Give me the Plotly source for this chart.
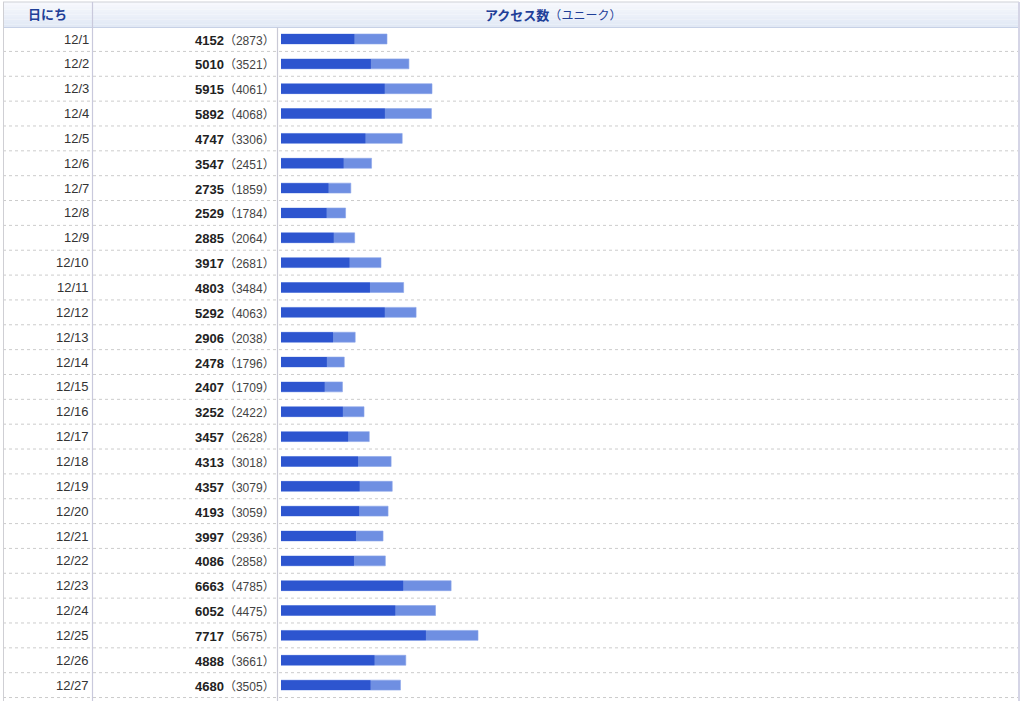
import plotly.graph_objects as go

dates = ["12/1", "12/2", "12/3", "12/4", "12/5", "12/6", "12/7", "12/8", "12/9",
         "12/10", "12/11", "12/12", "12/13", "12/14", "12/15", "12/16", "12/17",
         "12/18", "12/19", "12/20", "12/21", "12/22", "12/23", "12/24", "12/25",
         "12/26", "12/27"]
total = [4152, 5010, 5915, 5892, 4747, 3547, 2735, 2529, 2885, 3917, 4803, 5292,
         2906, 2478, 2407, 3252, 3457, 4313, 4357, 4193, 3997, 4086, 6663, 6052,
         7717, 4888, 4680]
unique = [2873, 3521, 4061, 4068, 3306, 2451, 1859, 1784, 2064, 2681, 3484, 4063,
          2038, 1796, 1709, 2422, 2628, 3018, 3079, 3059, 2936, 2858, 4785, 4475,
          5675, 3661, 3505]
header_date = "日にち"
header_access = "アクセス数"
header_unique = "ユニーク"

W, H = 1024, 701
FONT = "Liberation Sans, Arial, Noto Sans CJK JP, sans-serif"
CJK = "Noto Sans CJK JP"
BLUE_TXT = "#1f3f98"


def px(x):
    return x / W


def py(y):
    return 1 - y / H


def paren(s, size, color=None):
    col = (";color:%s" % color) if color else ""
    return ("<span style='font-size:%dpx%s'><span style='font-family:%s'>（</span>%s"
            "<span style='font-family:%s'>）</span></span>" % (size, col, CJK, s, CJK))


row0 = 39.0
pitch = 24.85
bar_x0 = 281.0
scale = 0.02553  # px per unit
bar_x1 = 1018.0

fig = go.Figure()
fig.add_trace(go.Bar(y=dates, x=total, orientation="h", width=0.4,
                     marker=dict(color="#6f8fe2", line=dict(color="#8aa4ea", width=0.6)),
                     hoverinfo="x+y", name="total"))
fig.add_trace(go.Bar(y=dates, x=unique, orientation="h", width=0.4,
                     marker=dict(color="#2d55cf", line=dict(width=0)),
                     hoverinfo="x+y", name="unique"))

shapes = []
# header gradient
hdr_top, hdr_bot = 2.0, 27.0
n = 10
c0 = (246, 248, 253)
c1 = (226, 233, 245)
for k in range(n):
    t = k / (n - 1)
    c = tuple(round(c0[j] + (c1[j] - c0[j]) * t) for j in range(3))
    y0 = hdr_top + (hdr_bot - hdr_top) * k / n
    y1 = hdr_top + (hdr_bot - hdr_top) * (k + 1) / n
    shapes.append(dict(type="rect", xref="paper", yref="paper", x0=px(3), x1=px(1019),
                       y0=py(y1), y1=py(y0), fillcolor="rgb(%d,%d,%d)" % c,
                       line=dict(width=0), layer="below"))
# header borders
shapes.append(dict(type="line", xref="paper", yref="paper", x0=px(3), x1=px(1019),
                   y0=py(2), y1=py(2), line=dict(color="#cfd2d8", width=1.2)))
shapes.append(dict(type="line", xref="paper", yref="paper", x0=px(3), x1=px(1019),
                   y0=py(27.5), y1=py(27.5), line=dict(color="#c7d1e6", width=1)))
# row separators
for i in range(len(dates)):
    shapes.append(dict(type="line", xref="paper", yref="y", x0=px(3), x1=px(1018),
                       y0=i + 0.5, y1=i + 0.5,
                       line=dict(color="#cccccc", width=1, dash="3px,3px")))
# vertical lines
shapes.append(dict(type="line", xref="paper", yref="paper", x0=px(3.5), x1=px(3.5),
                   y0=0, y1=py(2), line=dict(color="#cfcfd4", width=1)))
shapes.append(dict(type="line", xref="paper", yref="paper", x0=px(92.5), x1=px(92.5),
                   y0=0, y1=py(2), line=dict(color="#c9c9dc", width=1.2)))
shapes.append(dict(type="line", xref="paper", yref="paper", x0=px(277.5), x1=px(277.5),
                   y0=0, y1=py(27.5), line=dict(color="#c9c9d6", width=1.2)))
shapes.append(dict(type="line", xref="paper", yref="paper", x0=px(1019), x1=px(1019),
                   y0=0, y1=py(2), line=dict(color="#d5d5e6", width=2)))

annotations = []
annotations.append(dict(xref="paper", yref="paper", x=px(47), y=py(14.5),
                        text="<b>%s</b>" % header_date, showarrow=False,
                        xanchor="center", yanchor="middle",
                        font=dict(family=FONT, size=13, color=BLUE_TXT)))
annotations.append(dict(xref="paper", yref="paper", x=px(553), y=py(14.5),
                        text="<b>%s</b>%s" % (header_access, paren(header_unique, 12)),
                        showarrow=False, xanchor="center", yanchor="middle",
                        font=dict(family=FONT, size=13, color=BLUE_TXT)))
for d, t, u in zip(dates, total, unique):
    annotations.append(dict(xref="paper", yref="y", x=px(91), y=d, text=d,
                            showarrow=False, xanchor="right", yanchor="middle",
                            font=dict(family=FONT, size=13, color="#333333")))
    annotations.append(dict(xref="paper", yref="y", x=px(277), y=d,
                            text="<b>%d</b>%s" % (t, paren(str(u), 12, "#444444")),
                            showarrow=False, xanchor="right", yanchor="middle",
                            font=dict(family=FONT, size=13, color="#222222")))

xmax = (bar_x1 - bar_x0) / scale
ytop = (0 - row0) / pitch
ybot = (H - row0) / pitch

fig.update_layout(
    width=W, height=H, margin=dict(l=0, r=0, t=0, b=0),
    paper_bgcolor="white", plot_bgcolor="rgba(0,0,0,0)",
    barmode="overlay", showlegend=False,
    xaxis=dict(domain=[px(bar_x0), px(bar_x1)], range=[0, xmax], visible=False, fixedrange=True),
    yaxis=dict(type="category", range=[ybot, ytop], visible=False, fixedrange=True),
    shapes=shapes, annotations=annotations,
    font=dict(family=FONT),
)

fig.write_html("out.html", config={"displayModeBar": False},
               post_script="document.body.style.margin='0';document.body.style.overflow='hidden';")
